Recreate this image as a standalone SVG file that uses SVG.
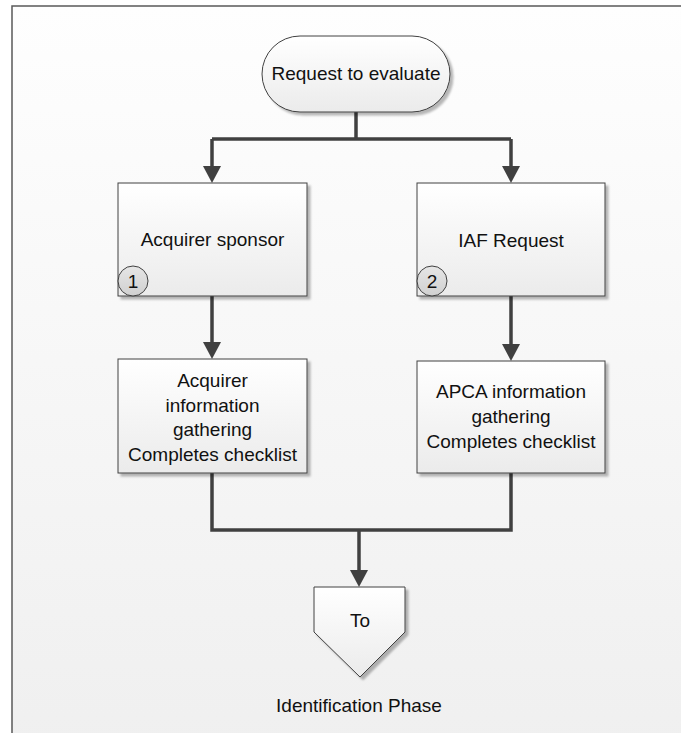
<svg xmlns="http://www.w3.org/2000/svg" width="681" height="733" viewBox="0 0 681 733">
  <defs>
    <linearGradient id="bg" x1="0" y1="0" x2="0" y2="1">
      <stop offset="0" stop-color="#fefefe"/>
      <stop offset="1" stop-color="#efefef"/>
    </linearGradient>
    <linearGradient id="shape" x1="0" y1="0" x2="0" y2="1">
      <stop offset="0" stop-color="#ffffff"/>
      <stop offset="1" stop-color="#ebebeb"/>
    </linearGradient>
    <linearGradient id="badge" x1="0" y1="0" x2="0" y2="1">
      <stop offset="0" stop-color="#e6e6e6"/>
      <stop offset="1" stop-color="#d0d0d0"/>
    </linearGradient>
    <filter id="shadow" x="-10%" y="-10%" width="130%" height="130%">
      <feDropShadow dx="3" dy="3" stdDeviation="1.2" flood-color="#000" flood-opacity="0.28"/>
    </filter>
    <marker id="arrow" markerUnits="userSpaceOnUse" markerWidth="18" markerHeight="18" refX="7" refY="9" orient="auto">
      <path d="M0,0 L17,9 L0,18 Z" fill="#404040"/>
    </marker>
    <style>
      .shape { fill: url(#shape); stroke: #404040; stroke-width: 1; filter: url(#shadow); }
      .badge { fill: url(#badge); stroke: #404040; stroke-width: 1; }
      .lbl { font-family: "Liberation Sans", Arial, sans-serif; font-size: 19px; fill: #111; text-anchor: middle; }
      .conn { fill: none; stroke: #404040; stroke-width: 3.5; }
    </style>
  </defs>

  <rect x="0" y="0" width="681" height="733" fill="#ffffff"/>
  <rect x="12" y="6" width="700" height="760" fill="url(#bg)" stroke="#5a5a5a" stroke-width="1.5"/>

  <g id="connectors">
    <path class="conn" d="M356,112 V139 M212,139 H511"/>
    <path class="conn" d="M212,139 V173" marker-end="url(#arrow)"/>
    <path class="conn" d="M511,139 V173" marker-end="url(#arrow)"/>
    <path class="conn" d="M212,296 V349" marker-end="url(#arrow)"/>
    <path class="conn" d="M511,296 V351" marker-end="url(#arrow)"/>
    <path class="conn" d="M212,473 V530 H511 V473"/>
    <path class="conn" d="M359,530 V577" marker-end="url(#arrow)"/>
  </g>

  <g id="start">
    <rect class="shape" x="262" y="36" width="188" height="76" rx="38" ry="38"/>
    <text class="lbl" x="356" y="80">Request to evaluate</text>
  </g>

  <g id="acquirer-sponsor">
    <rect class="shape" x="118" y="183" width="189" height="113"/>
    <text class="lbl" x="212.5" y="246">Acquirer sponsor</text>
    <circle class="badge" cx="133" cy="281" r="15"/>
    <text class="lbl" x="133" y="288">1</text>
  </g>

  <g id="iaf-request">
    <rect class="shape" x="417" y="183" width="188" height="113"/>
    <text class="lbl" x="511" y="247">IAF Request</text>
    <circle class="badge" cx="432" cy="281" r="15"/>
    <text class="lbl" x="432" y="288">2</text>
  </g>

  <g id="acquirer-info">
    <rect class="shape" x="118" y="359" width="189" height="114"/>
    <text class="lbl" x="212.5" y="387">Acquirer</text>
    <text class="lbl" x="212.5" y="411.5">information</text>
    <text class="lbl" x="212.5" y="436">gathering</text>
    <text class="lbl" x="212.5" y="460.5">Completes checklist</text>
  </g>

  <g id="apca-info">
    <rect class="shape" x="417" y="361" width="188" height="112"/>
    <text class="lbl" x="511" y="398">APCA information</text>
    <text class="lbl" x="511" y="423">gathering</text>
    <text class="lbl" x="511" y="448">Completes checklist</text>
  </g>

  <g id="offpage">
    <polygon class="shape" points="314,587 405,587 405,632 360,677 314,632"/>
    <text class="lbl" x="360" y="627">To</text>
    <text class="lbl" x="359" y="712">Identification Phase</text>
  </g>
</svg>
